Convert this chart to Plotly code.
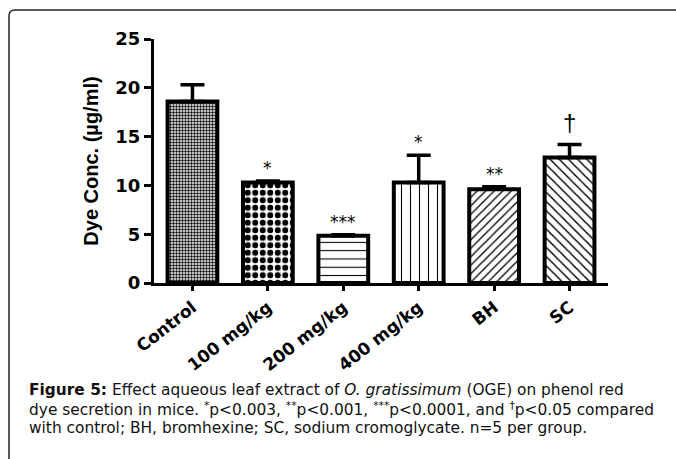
import plotly.graph_objects as go

categories = ["Control", "100 mg/kg", "200 mg/kg", "400 mg/kg", "BH", "SC"]
means = [18.6, 10.3, 4.85, 10.3, 9.6, 12.85]
sem_up = [1.7, 0.15, 0.1, 2.8, 0.25, 1.35]
sig_marks = ["", "*", "***", "*", "**", "†"]
y_ticks = [0, 5, 10, 15, 20, 25]

pattern_shapes = [".", ".", "-", "|", "/", "\\"]
pattern_sizes = [3, 7.5, 8.3, 9, 6, 6.5]
pattern_solid = [0.5, 0.5, 0.13, 0.12, 0.22, 0.22]

W, H = 676, 459
L, R, T, B = 154, 68, 39, 176
pw, ph = W - L - R, H - T - B

WIDE = "DejaVu Sans, Verdana, sans-serif"
ARIAL = "Liberation Sans, Arial, sans-serif"

def px(x):
    return (x - L) / pw

def py(y):
    return (H - B - y) / ph

fig = go.Figure()
fig.add_trace(go.Bar(
    x=categories, y=means, width=0.66,
    marker=dict(color="white",
                line=dict(color="black", width=4),
                pattern=dict(shape=pattern_shapes, size=pattern_sizes,
                             solidity=pattern_solid, fgcolor="black",
                             bgcolor="white", fillmode="replace")),
    error_y=dict(type="data", symmetric=False, array=sem_up,
                 arrayminus=[0] * len(sem_up), color="black",
                 thickness=3.5, width=12),
    showlegend=False,
))

for c, m, e, s in zip(categories, means, sem_up, sig_marks):
    if not s:
        continue
    big = s == "†"
    fig.add_annotation(x=c, y=m + e, text=s, showarrow=False,
                       yanchor="bottom", yshift=(6 if big else 1),
                       font=dict(family=(ARIAL if big else WIDE), size=(24 if big else 17), color="black"))

fig.update_layout(
    width=W, height=H,
    margin=dict(l=L, r=R, t=T, b=B),
    paper_bgcolor="white", plot_bgcolor="white",
    font=dict(family=ARIAL, color="black"),
    xaxis=dict(range=[-0.51, 5.51], showline=True, linecolor="black",
               linewidth=3, ticks="outside", ticklen=5, tickwidth=2.5,
               tickcolor="black", tickangle=-38, showgrid=False,
               tickfont=dict(size=17, family=WIDE, weight="bold")),
    yaxis=dict(range=[0, 25], tickvals=y_ticks, showline=True,
               linecolor="black", linewidth=3, ticks="outside", ticklen=7,
               tickwidth=3, tickcolor="black", showgrid=False, zeroline=False,
               tickfont=dict(size=18, family=WIDE, weight="bold"),
               title=dict(text="Dye Conc. (µg/ml)", standoff=12,
                          font=dict(size=20, family=ARIAL, weight="bold"))),
)

# rounded frame (top + left visible)
r = 6
path = (f"M {px(9)},{py(480)} L {px(9)},{py(10 + r)} "
        f"Q {px(9)},{py(10)} {px(9 + r)},{py(10)} L {px(700)},{py(10)}")
fig.add_shape(type="path", xref="paper", yref="paper", path=path,
              line=dict(color="#222", width=1.5))

caption_lines = [
    "<b>Figure 5:</b> Effect aqueous leaf extract of <i>O. gratissimum</i> (OGE) on phenol red",
    "dye secretion in mice. <sup>*</sup>p<0.003, <sup>**</sup>p<0.001, <sup>***</sup>p<0.0001, and <sup>†</sup>p<0.05 compared",
    "with control; BH, bromhexine; SC, sodium cromoglycate. n=5 per group.",
]
caption_y = [390, 409, 428]
for t, yy in zip(caption_lines, caption_y):
    fig.add_annotation(xref="paper", yref="paper", x=px(27), y=py(yy),
                       xanchor="left", yanchor="middle", text=t, showarrow=False,
                       align="left",
                       font=dict(family=WIDE, size=15.4, color="#111"))

fig.write_html("out.html")
